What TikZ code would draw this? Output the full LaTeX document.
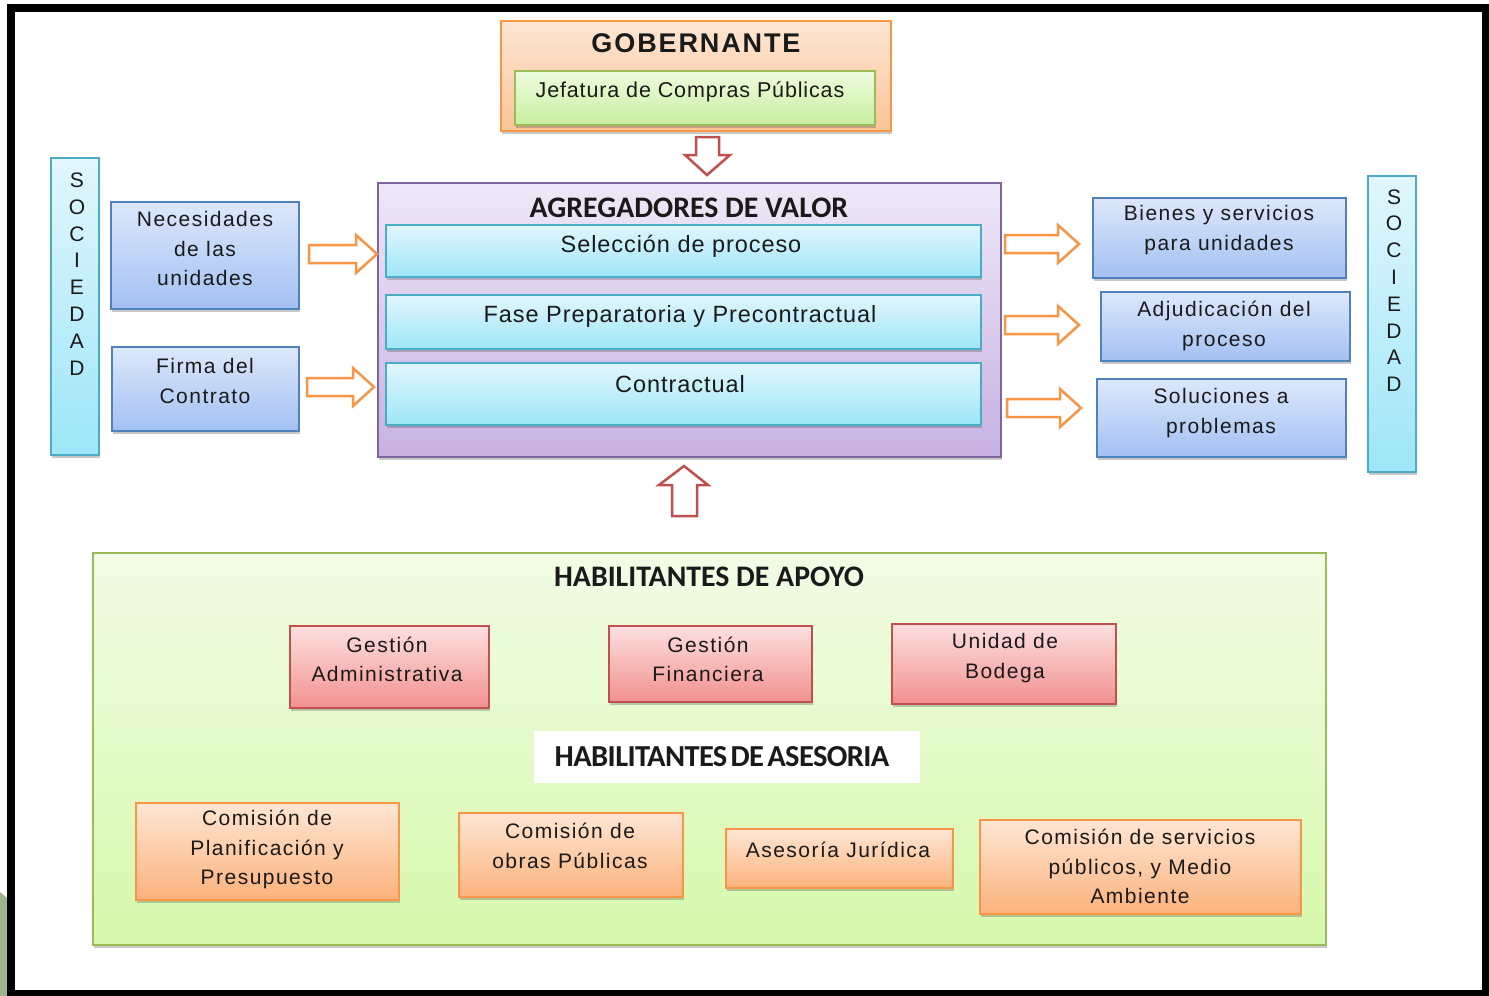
\documentclass[tikz,border=0pt]{standalone}
\usepackage{fontspec}
\setmainfont{Liberation Sans}
\newfontfamily\sA{Liberation Sans}[LetterSpace=4]
\newfontfamily\sB{Liberation Sans}[LetterSpace=7]
\newfontfamily\sG{Liberation Sans}[LetterSpace=7]
\newfontfamily\calf{Carlito}
\newfontfamily\calc{Carlito}[LetterSpace=-2]
\usetikzlibrary{shadows}
\definecolor{cOrB}{HTML}{F79646}
\definecolor{cOrT}{HTML}{FDE6D3}
\definecolor{cOrBot}{HTML}{FBC497}
\definecolor{cOr2T}{HTML}{FEE6D4}
\definecolor{cOr2Bot}{HTML}{FBB27C}
\definecolor{cGrB}{HTML}{9BBB59}
\definecolor{cGrT}{HTML}{EEFBDF}
\definecolor{cGrBot}{HTML}{C8EF9F}
\definecolor{cBgT}{HTML}{F2FCE6}
\definecolor{cBgBot}{HTML}{D6F8AB}
\definecolor{cPuB}{HTML}{8064A2}
\definecolor{cPuT}{HTML}{EFE8F8}
\definecolor{cPuBot}{HTML}{C7B1E2}
\definecolor{cCyB}{HTML}{4BACC6}
\definecolor{cCyT}{HTML}{E2F6FD}
\definecolor{cCyBot}{HTML}{9DE6F8}
\definecolor{cBlB}{HTML}{4F81BD}
\definecolor{cBlT}{HTML}{DDE8FB}
\definecolor{cBlBot}{HTML}{A3C0F3}
\definecolor{cRdB}{HTML}{C0504D}
\definecolor{cRdT}{HTML}{FDE0E0}
\definecolor{cRdBot}{HTML}{F29090}
\definecolor{cSliver}{HTML}{9DB58A}
\definecolor{cTxt}{HTML}{1A1A1A}
\tikzset{
  basebox/.style={rectangle, inner sep=0pt, outer sep=0pt, line width=1.8pt},
  shad/.style={drop shadow={shadow xshift=1pt, shadow yshift=-3pt, opacity=0.3, fill=black!70}},
  orbox/.style={basebox, shad, draw=cOrB, top color=cOrT, bottom color=cOrBot},
  orboxb/.style={basebox, shad, draw=cOrB, top color=cOr2T, bottom color=cOr2Bot},
  grbox/.style={basebox, shad, draw=cGrB, top color=cGrT, bottom color=cGrBot},
  bgbox/.style={basebox, shad, draw=cGrB, top color=cBgT, bottom color=cBgBot},
  pubox/.style={basebox, shad, draw=cPuB, top color=cPuT, bottom color=cPuBot},
  cybox/.style={basebox, shad, draw=cCyB, top color=cCyT, bottom color=cCyBot},
  blbox/.style={basebox, shad, draw=cBlB, top color=cBlT, bottom color=cBlBot},
  rdbox/.style={basebox, shad, draw=cRdB, top color=cRdT, bottom color=cRdBot},
  whbox/.style={basebox, fill=white, draw=none},
  txt/.style={inner sep=0pt, align=center, text=cTxt},
  bodyA/.style={txt, font=\sA\fontsize{21.5}{29}\selectfont},
  bodyC/.style={txt, font=\sA\fontsize{23.5}{30}\selectfont},
  bodyB/.style={txt, font=\sB\fontsize{21}{29.5}\selectfont},
  ttl/.style={txt, font=\calf\bfseries\fontsize{29.8}{32}\selectfont},
  socs/.style={txt, font=\fontsize{21}{26.8}\selectfont},
  oarrow/.style={draw=cOrB, fill=white, line width=2.5pt, line join=miter},
  rarrow/.style={draw=cRdB, fill=white, line width=2.5pt, line join=miter},
}
\newcommand\mybox[6]{\node[#1, minimum width={#5-#3}, minimum height={#6-#4}] (#2) at ({(#3+#5)/2},{(#4+#6)/2}) {};}
\newcommand\rarr[3]{\draw[oarrow] (#1,#3-9) -- (#2-21,#3-9) -- (#2-21,#3-19) -- (#2,#3) -- (#2-21,#3+19) -- (#2-21,#3+9) -- (#1,#3+9) -- cycle;}
\begin{document}
\begin{tikzpicture}[x=1pt,y=-1pt]
\useasboundingbox (0,0) rectangle (1489,996);
\fill[white] (0,0) rectangle (1489,996);
\fill[cSliver] (0,892) -- (7,898) -- (7,996) -- (0,996) -- cycle;
\draw[line width=8pt] (11,7.5) rectangle (1485.5,994);

% GOBERNANTE
\mybox{orbox}{gob}{501}{21}{891}{131}
\mybox{grbox}{jef}{515}{71}{875}{125}
\node[txt, font=\sG\bfseries\fontsize{27}{30}\selectfont] (t-gob) at (696,43) {GOBERNANTE};
\node[bodyA] (t-jef) at (690,92) {Jefatura de Compras Públicas};
\draw[rarrow] (696,137) -- (719,137) -- (719,155) -- (730,155) -- (707,175) -- (685,155) -- (696,155) -- cycle;

% SOCIEDAD bars
\mybox{cybox}{socL}{51}{158}{99}{455}
\mybox{cybox}{socR}{1368}{176}{1416}{472}
\node[socs] (t-socL) at (77,274) {S\\O\\C\\I\\E\\D\\A\\D};
\node[socs] (t-socR) at (1394,290.5) {S\\O\\C\\I\\E\\D\\A\\D};

% AGREGADORES
\mybox{pubox}{agr}{378}{183}{1001}{457}
\node[ttl] (t-agr) at (689,208) {AGREGADORES DE VALOR};
\mybox{cybox}{sel}{386}{225}{981}{277}
\mybox{cybox}{fase}{386}{295}{981}{349}
\mybox{cybox}{con}{386}{363}{981}{425}
\node[bodyC] (t-sel) at (681,246) {Selección de proceso};
\node[bodyC] (t-fase) at (680,316) {Fase Preparatoria y Precontractual};
\node[bodyC] (t-con) at (680,384) {Contractual};

% left boxes
\mybox{blbox}{nec}{111}{202}{299}{309}
\mybox{blbox}{fir}{112}{347}{299}{431}
\node[bodyB] (t-nec) at (205,248.5) {Necesidades\\de las\\unidades};
\node[bodyB] (t-fir) at (205,381) {Firma del\\Contrato};
\rarr{309}{377}{254}
\rarr{307}{374}{387}

% right boxes
\mybox{blbox}{bie}{1093}{198}{1346}{278}
\mybox{blbox}{adj}{1101}{292}{1350}{361}
\mybox{blbox}{sol}{1097}{379}{1346}{457}
\node[bodyB] (t-bie) at (1219,230) {Bienes y servicios\\para unidades};
\node[bodyB] (t-adj) at (1224,326) {Adjudicación del\\proceso};
\node[bodyB] (t-sol) at (1221,413) {Soluciones a\\problemas};
\rarr{1005}{1079}{244}
\rarr{1005}{1079}{325}
\rarr{1007}{1081}{408}

% up arrow
\draw[rarrow] (672,516) -- (697,516) -- (697,485) -- (708,485) -- (684,466) -- (659,485) -- (672,485) -- cycle;

% HABILITANTES
\mybox{bgbox}{hab}{93}{553}{1326}{945}
\node[ttl] (t-hab) at (709,577) {HABILITANTES DE APOYO};
\mybox{rdbox}{gad}{290}{626}{489}{708}
\mybox{rdbox}{gfi}{609}{626}{812}{702}
\mybox{rdbox}{ubo}{892}{624}{1116}{704}
\node[bodyB] (t-gad) at (387,659.5) {Gestión\\Administrativa};
\node[bodyB] (t-gfi) at (708,659.5) {Gestión\\Financiera};
\node[bodyB] (t-ubo) at (1005,658) {Unidad de\\Bodega};
\mybox{whbox}{ase}{534}{731}{920}{783}
\node[txt, font=\calc\bfseries\fontsize{30.5}{32}\selectfont] (t-ase) at (722,757) {HABILITANTES\hspace{-0.1em} DE\hspace{-0.1em} ASESORIA};
\mybox{orboxb}{cpl}{136}{803}{399}{900}
\mybox{orboxb}{cob}{459}{813}{683}{897}
\mybox{orboxb}{aju}{726}{829}{953}{888}
\mybox{orboxb}{cse}{980}{820}{1301}{914}
\node[bodyB] (t-cpl) at (267,849.5) {Comisión de\\Planificación y\\Presupuesto};
\node[bodyB] (t-cob) at (570,846) {Comisión de\\obras Públicas};
\node[bodyB] (t-aju) at (838,850) {Asesoría Jurídica};
\node[bodyB] (t-cse) at (1140,866.5) {Comisión de servicios\\públicos, y Medio\\Ambiente};
\end{tikzpicture}
\end{document}
